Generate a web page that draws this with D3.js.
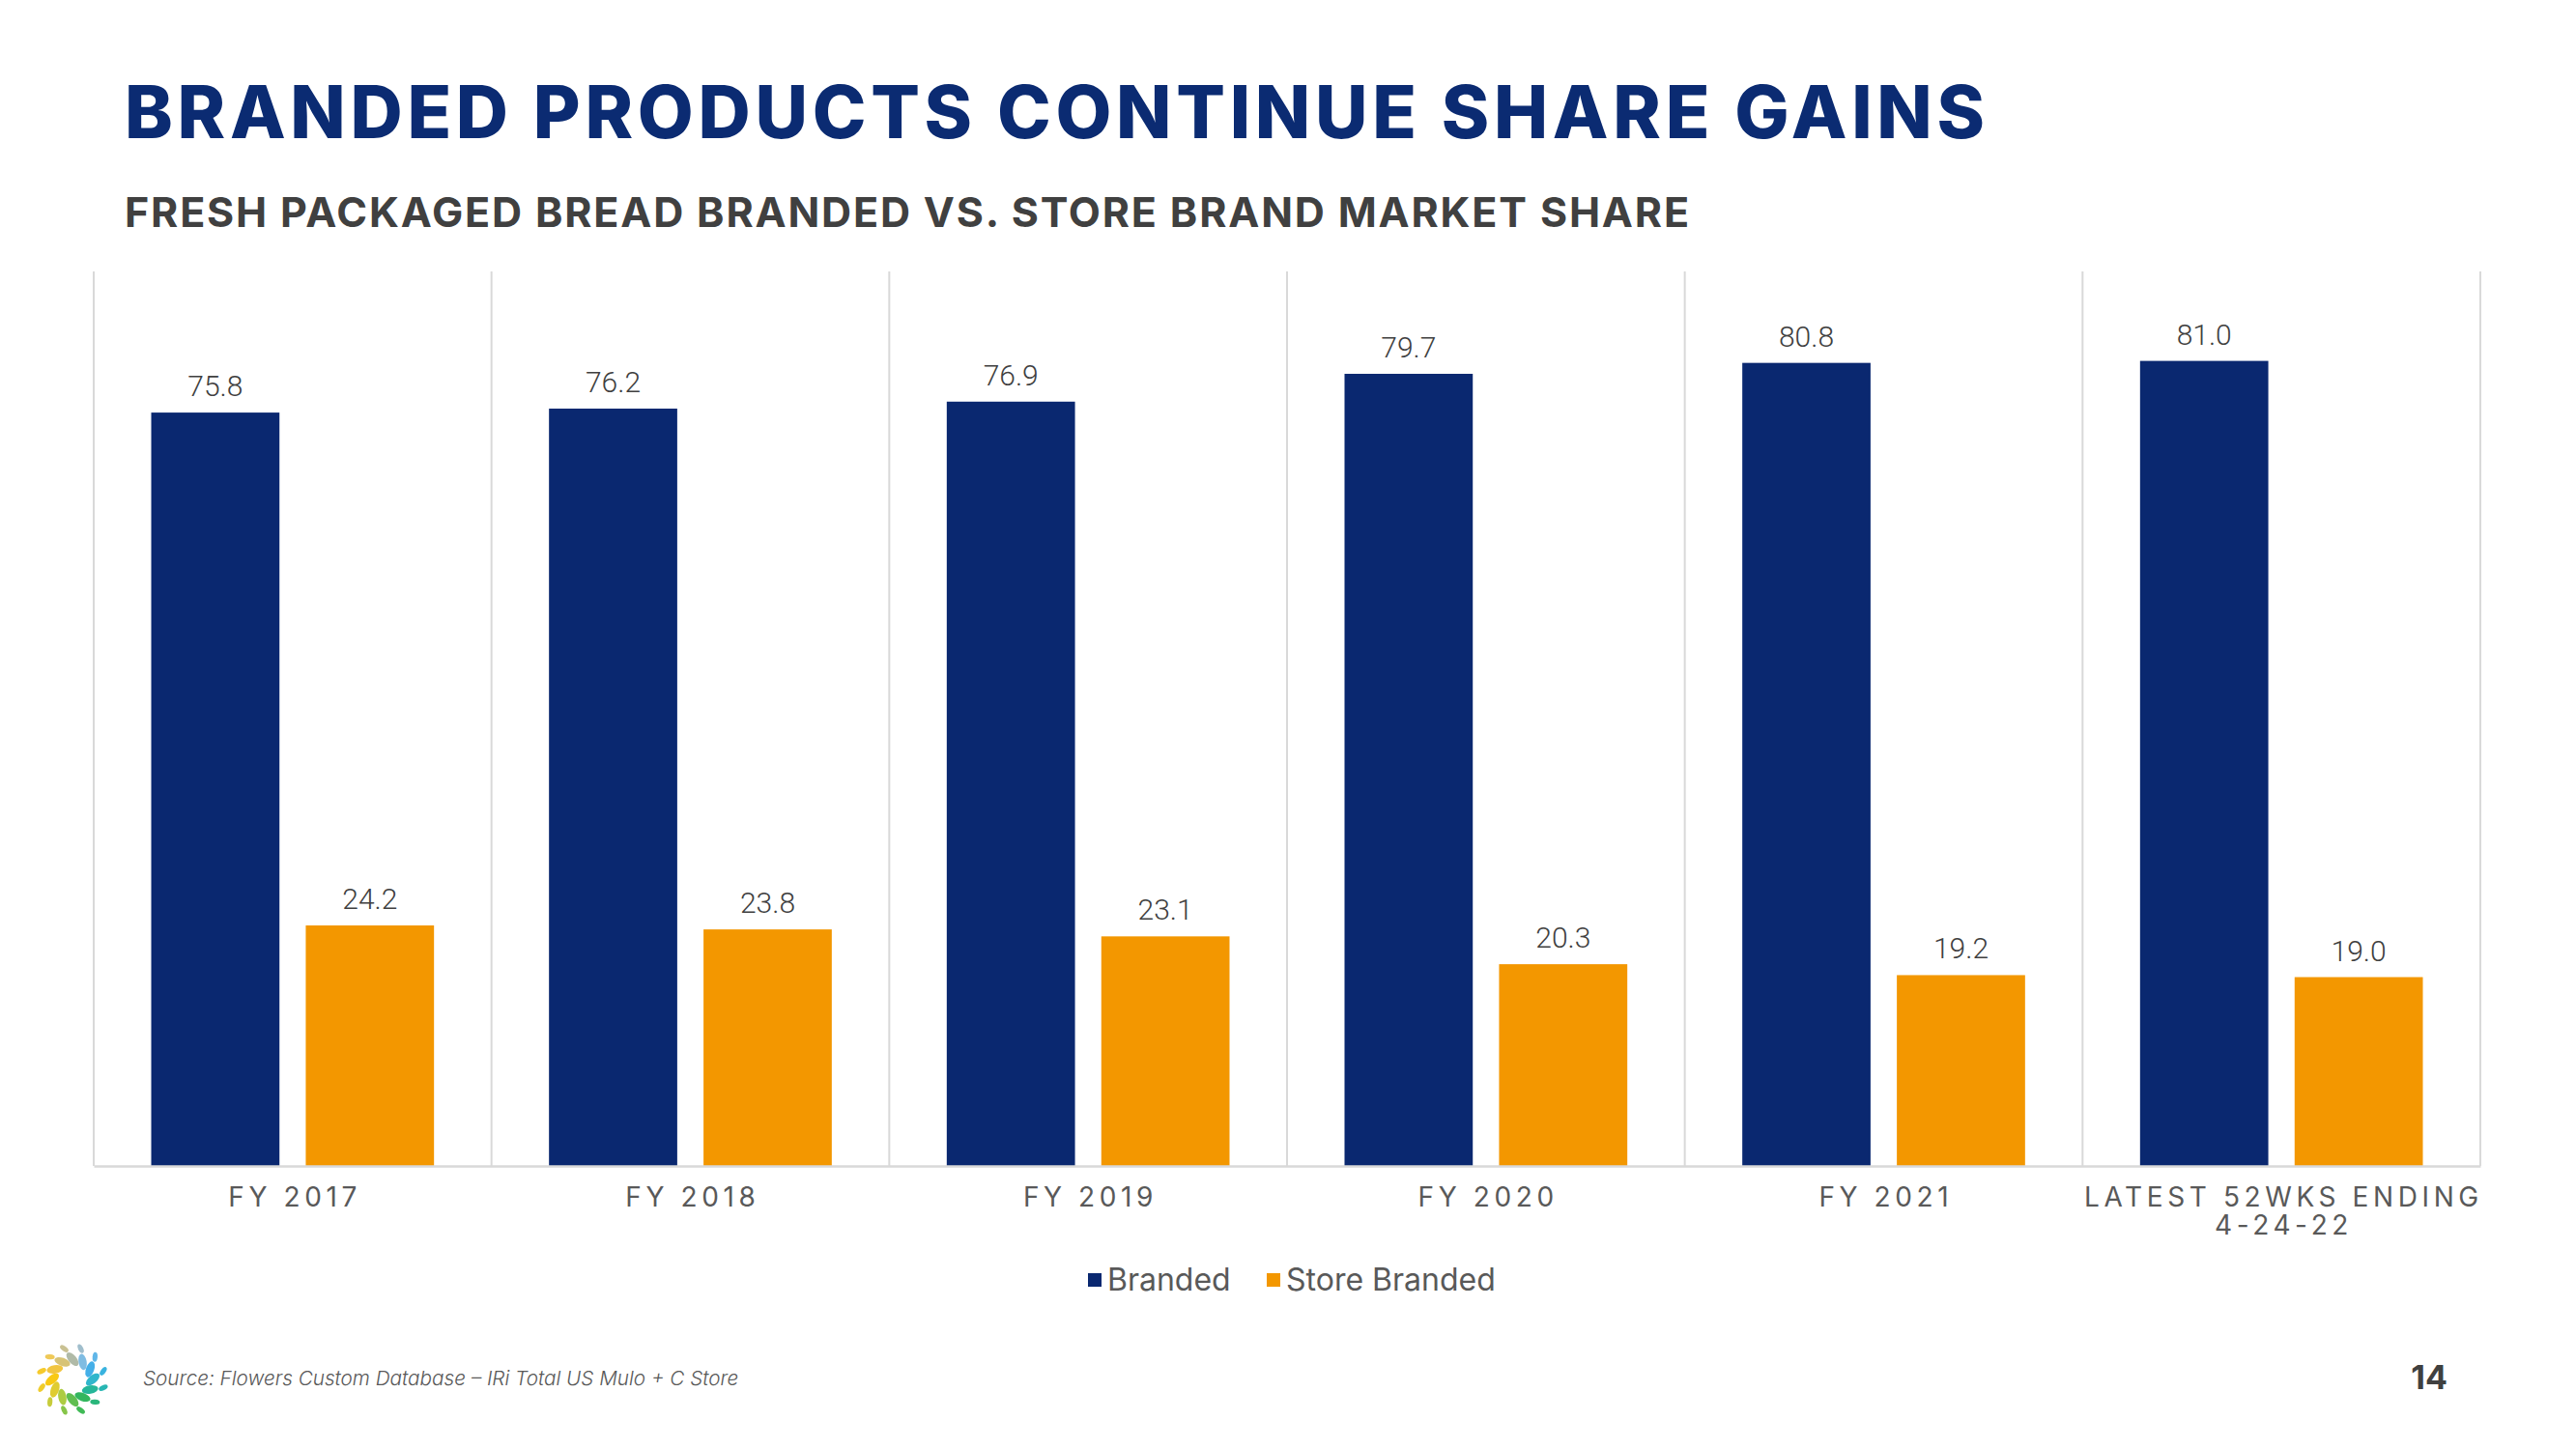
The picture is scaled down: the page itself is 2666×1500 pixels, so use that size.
<!DOCTYPE html>
<html><head><meta charset="utf-8">
<script src="https://cdn.jsdelivr.net/npm/d3@7"></script>
<style>
html,body{margin:0;padding:0;background:#fff;}
svg{display:block;}
</style></head>
<body>
<svg id="c" width="2666" height="1500"></svg>
<script>
// ---- data ----
const categories = ["FY 2017","FY 2018","FY 2019","FY 2020","FY 2021","LATEST 52WKS ENDING 4-24-22"];
const tickLines = [["FY 2017"],["FY 2018"],["FY 2019"],["FY 2020"],["FY 2021"],["LATEST 52WKS ENDING","4-24-22"]];
const branded = [75.8, 76.2, 76.9, 79.7, 80.8, 81.0];
const storeBranded = [24.2, 23.8, 23.1, 20.3, 19.2, 19.0];
const seriesNames = ["Branded","Store Branded"];
const titleText = "BRANDED PRODUCTS CONTINUE SHARE GAINS";
const subtitleText = "FRESH PACKAGED BREAD BRANDED VS. STORE BRAND MARKET SHARE";
const sourceText = "Source: Flowers Custom Database \u2013 IRi Total US Mulo + C Store";
const pageNumber = "14";

const colors = {"Branded":"#0a2870","Store Branded":"#f39700"};
const svg = d3.select("#c");

// ---- titles ----
function fitText(sel, target){
  const w = sel.node().getComputedTextLength();
  const n = sel.text().length;
  sel.attr("letter-spacing", ((target - w)/(n-1)).toFixed(2));
}
const t = svg.append("text").attr("x",129).attr("y",143)
  .attr("font-family","Inter, 'Open Sans', sans-serif").attr("font-weight",800)
  .attr("font-size",75).attr("fill","#0b2b72").text(titleText);
fitText(t, 1925);
const st = svg.append("text").attr("x",129).attr("y",235)
  .attr("font-family","Inter, 'Open Sans', sans-serif").attr("font-weight",700)
  .attr("font-size",43).attr("fill","#404040").text(subtitleText);
fitText(st, 1619);

// ---- chart ----
const pLeft=97, pRight=2567, pTop=281, pBottom=1207;
const x = d3.scaleBand().domain(categories).range([pLeft,pRight]).paddingInner(0).paddingOuter(0);
const xs = d3.scaleBand().domain(seriesNames).range([0,x.bandwidth()]).paddingInner(16/94).paddingOuter(0.372);
const y = d3.scaleLinear().domain([0,90]).range([pBottom,pTop]);

// separators
const seps = categories.map(c=>x(c)).concat([pRight]);
svg.append("g").selectAll("line").data(seps).join("line")
  .attr("x1",d=>d).attr("x2",d=>d).attr("y1",pTop).attr("y2",pBottom)
  .attr("stroke","#d9d9d9").attr("stroke-width",2);

const rows = categories.map((c,i)=>({cat:c, vals:[{s:"Branded",v:branded[i]},{s:"Store Branded",v:storeBranded[i]}]}));
const g = svg.append("g").selectAll("g").data(rows).join("g")
  .attr("transform",d=>`translate(${x(d.cat)},0)`);
g.selectAll("rect").data(d=>d.vals).join("rect")
  .attr("x",d=>xs(d.s)).attr("width",xs.bandwidth())
  .attr("y",d=>y(d.v)).attr("height",d=>y(0)-y(d.v))
  .attr("fill",d=>colors[d.s]);
g.selectAll("text").data(d=>d.vals).join("text")
  .attr("x",d=>xs(d.s)+xs.bandwidth()/2).attr("y",d=>y(d.v)-17)
  .attr("text-anchor","middle")
  .attr("font-family","Roboto, sans-serif").attr("font-weight",300)
  .attr("font-size",30).attr("fill","#404040")
  .text(d=>d.v.toFixed(1));

// x axis
const ax = svg.append("g").attr("transform",`translate(0,${pBottom})`)
  .call(d3.axisBottom(x).tickSize(0).tickPadding(0));
ax.select(".domain").attr("stroke","#d9d9d9").attr("stroke-width",2.5);
ax.selectAll(".tick text").each(function(d,i){
  const el = d3.select(this);
  el.text(null).attr("y",null).attr("dy",null)
    .attr("font-family","Inter, sans-serif").attr("font-weight",400)
    .attr("font-size",28).attr("fill","#595959").attr("letter-spacing",4.6);
  tickLines[i].forEach((ln,j)=>{
    el.append("tspan").attr("x",2.3).attr("y",42+j*29).text(ln);
  });
});

// legend
const legX=[1126,1311];
const lg = svg.append("g").selectAll("g").data(seriesNames).join("g")
  .attr("transform",(d,i)=>`translate(${legX[i]},1325)`);
lg.append("rect").attr("x",0).attr("y",-7).attr("width",14).attr("height",14).attr("fill",d=>colors[d]);
lg.append("text").attr("x",20).attr("y",11)
  .attr("font-family","Inter, sans-serif").attr("font-weight",400)
  .attr("font-size",32).attr("fill","#595959").text(d=>d);

// footer
svg.append("text").attr("x",148).attr("y",1434)
  .attr("font-family","Inter, sans-serif").attr("font-style","italic").attr("font-weight",300)
  .attr("font-size",20.7).attr("fill","#595959").text(sourceText);
svg.append("text").attr("x",2533).attr("y",1438).attr("text-anchor","end")
  .attr("font-family","Inter, sans-serif").attr("font-weight",700)
  .attr("font-size",34).attr("fill","#404040").text(pageNumber);

// logo (petal ring): colours counter-clockwise starting from the top
const innerColors = ["#a9b4a0","#d4be6a","#f0c030","#f7c400","#dcc820","#a6c832","#52b842","#22b050","#12b090","#1eb0c8","#34a8e6","#74b6e0"];
const outerColors = ["#c4bc8a","#eec44a","#f5c61a","#eec81a","#c2c82a","#7cc03a","#30b448","#18b070","#16b0ac","#28acdc","#52b0e6","#98b8c8"];
const lgG = svg.append("g").attr("transform","translate(75,1428)");
function petal(angleDeg, r, rx, ry, color){
  const rad = angleDeg*Math.PI/180;
  const cx = r*Math.cos(rad), cy = r*Math.sin(rad);
  lgG.append("ellipse").attr("cx",cx).attr("cy",cy).attr("rx",rx).attr("ry",ry)
    .attr("transform",`rotate(${angleDeg+90-40},${cx},${cy})`)
    .attr("fill",color).attr("opacity",0.92);
}
innerColors.forEach((c,k)=>petal(-90 - k*30, 21, 4.2, 8.5, c));
outerColors.forEach((c,k)=>petal(-105 - k*30, 33, 2.6, 5, c));
</script>
</body></html>
